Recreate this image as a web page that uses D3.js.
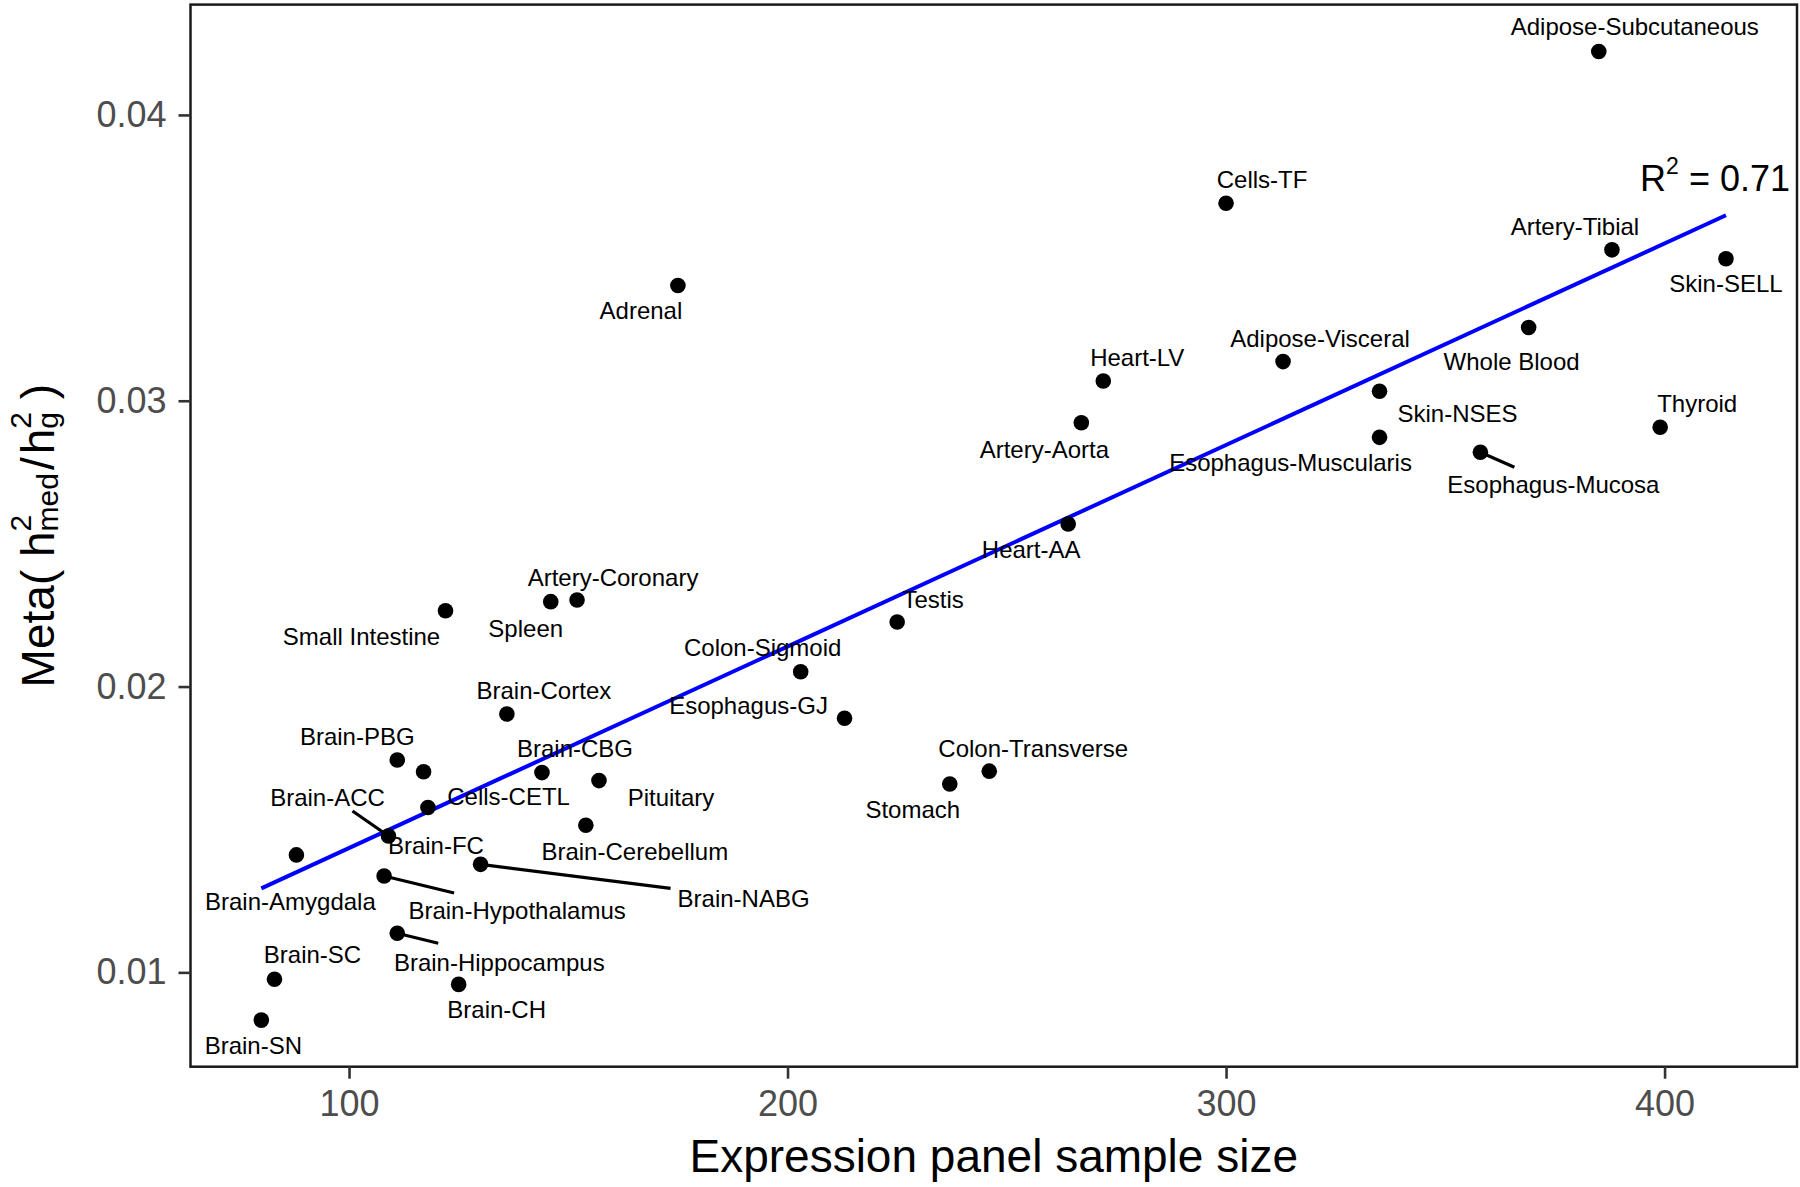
<!DOCTYPE html>
<html><head><meta charset="utf-8">
<script src="https://cdn.jsdelivr.net/npm/d3@7"></script>
<style>
body{margin:0;background:#fff;}
svg{display:block;}
text{font-family:"Liberation Sans",Arial,Helvetica,sans-serif;}
</style>
</head><body><svg id="chart" width="1800" height="1187"></svg>
<script>
// ---------------- data ----------------
const tissues = ["Adipose-Subcutaneous","Cells-TF","Artery-Tibial","Skin-SELL","Adrenal","Whole Blood",
  "Adipose-Visceral","Heart-LV","Skin-NSES","Artery-Aorta","Thyroid","Esophagus-Muscularis","Esophagus-Mucosa",
  "Heart-AA","Artery-Coronary","Spleen","Small Intestine","Testis","Colon-Sigmoid","Brain-Cortex","Esophagus-GJ",
  "Brain-PBG","Cells-CETL","Brain-CBG","Colon-Transverse","Pituitary","Stomach","Brain-FC","Brain-Cerebellum",
  "Brain-ACC","Brain-Amygdala","Brain-NABG","Brain-Hypothalamus","Brain-Hippocampus","Brain-SC","Brain-CH","Brain-SN"];
const sampleSize = [385,300,388,414,175,369,313,272,335,267,399,335,358,264,152,146,122,225,203,136,213,
  111,117,144,246,157,237,118,154,109,88,130,108,111,83,125,80];
const h2ratio = [0.04222,0.03691,0.03528,0.03497,0.03403,0.03256,0.03137,0.03069,0.03033,0.02923,0.02907,
  0.02872,0.02820,0.02569,0.02303,0.02297,0.02265,0.02226,0.02052,0.01904,0.01889,0.01743,0.01702,0.01699,
  0.01704,0.01671,0.01659,0.01577,0.01515,0.01477,0.01411,0.01378,0.01337,0.01137,0.00976,0.00958,0.00833];
const xTicks = [100,200,300,400];
const yTicks = [0.01,0.02,0.03,0.04];
const yTickLabels = ["0.01","0.02","0.03","0.04"];
const fitX = [80,414];
const fitY = [0.01294,0.03649];
const r2Value = "0.71";
const xTitle = "Expression panel sample size";

// ---------------- layout (label placement, px offsets from point) ----------------
const labelOffset = {
  "Adipose-Subcutaneous":[36,-25],"Cells-TF":[36,-24],"Artery-Tibial":[-37,-23],"Skin-SELL":[0,25],
  "Adrenal":[-37,25],"Whole Blood":[-17,34],"Adipose-Visceral":[37,-23],"Heart-LV":[34,-24],
  "Skin-NSES":[78,22],"Artery-Aorta":[-37,27],"Thyroid":[37,-24],"Esophagus-Muscularis":[-89,25],
  "Esophagus-Mucosa":[73,32],"Heart-AA":[-37,25],"Artery-Coronary":[36,-23],"Spleen":[-25,27],
  "Small Intestine":[-84,26],"Testis":[36,-23],"Colon-Sigmoid":[-38,-24],"Brain-Cortex":[37,-24],
  "Esophagus-GJ":[-96,-13],"Brain-PBG":[-40,-24],"Cells-CETL":[85,25],"Brain-CBG":[33,-24],
  "Colon-Transverse":[44,-23],"Pituitary":[72,17],"Stomach":[-37,25],"Brain-FC":[8,38],
  "Brain-Cerebellum":[49,26],"Brain-ACC":[-61,-39],"Brain-Amygdala":[-6,46],"Brain-NABG":[263,34],
  "Brain-Hypothalamus":[133,34],"Brain-Hippocampus":[102,29],"Brain-SC":[38,-25],"Brain-CH":[38,25],
  "Brain-SN":[-8,25]
};
const leaderEnd = {
  "Esophagus-Mucosa":[34,15],"Brain-ACC":[-36,-25],"Brain-NABG":[190,24],
  "Brain-Hypothalamus":[70,17],"Brain-Hippocampus":[41,10]
};

const panel = {left:190.5, top:4.6, right:1797, bottom:1066.7};
const svg = d3.select("#chart");
const x = d3.scaleLinear().domain([63.85,430.2]).range([panel.left,panel.right]);
const y = d3.scaleLinear().domain([0.0067,0.04386]).range([panel.bottom,panel.top]);

const data = tissues.map((t,i)=>({name:t,n:sampleSize[i],v:h2ratio[i]}));

// regression line
svg.append("line")
  .attr("x1",x(fitX[0])).attr("y1",y(fitY[0]))
  .attr("x2",x(fitX[1])).attr("y2",y(fitY[1]))
  .attr("stroke","#0000ff").attr("stroke-width",4);

// leader segments
svg.append("g").selectAll("line").data(data.filter(d=>leaderEnd[d.name])).join("line")
  .attr("x1",d=>x(d.n)).attr("y1",d=>y(d.v))
  .attr("x2",d=>x(d.n)+leaderEnd[d.name][0]).attr("y2",d=>y(d.v)+leaderEnd[d.name][1])
  .attr("stroke","#000").attr("stroke-width",3.2);

// points
svg.append("g").selectAll("circle").data(data).join("circle")
  .attr("cx",d=>x(d.n)).attr("cy",d=>y(d.v)).attr("r",7.8).attr("fill","#000");

// labels
svg.append("g").selectAll("text").data(data).join("text")
  .attr("x",d=>x(d.n)+labelOffset[d.name][0])
  .attr("y",d=>y(d.v)+labelOffset[d.name][1])
  .attr("dy","0.36em").attr("text-anchor","middle")
  .style("font-size","24px").attr("fill","#000")
  .text(d=>d.name);

// panel border
svg.append("rect").attr("x",panel.left).attr("y",panel.top)
  .attr("width",panel.right-panel.left).attr("height",panel.bottom-panel.top)
  .attr("fill","none").attr("stroke","#1a1a1a").attr("stroke-width",2.5);

// axes
const yAxis = svg.append("g").attr("transform",`translate(${panel.left},0)`)
  .call(d3.axisLeft(y).tickValues(yTicks).tickFormat((d,i)=>yTickLabels[i]).tickSize(12).tickPadding(12));
const xAxis = svg.append("g").attr("transform",`translate(0,${panel.bottom})`)
  .call(d3.axisBottom(x).tickValues(xTicks).tickFormat(d3.format("d")).tickSize(12).tickPadding(12));
[yAxis,xAxis].forEach(g=>{
  g.select(".domain").remove();
  g.selectAll(".tick line").attr("stroke","#333").attr("stroke-width",2.6);
  g.selectAll(".tick text").attr("fill","#4d4d4d").style("font-size","36px")
    .style("font-family","'Liberation Sans',Arial,Helvetica,sans-serif");
});

// x title
svg.append("text").attr("x",(panel.left+panel.right)/2).attr("y",1172)
  .attr("text-anchor","middle").style("font-size","46px").attr("fill","#000").text(xTitle);

// y title: Meta( h^2_med / h^2_g )
const S = 46, s = 30;
const yt = svg.append("text").attr("fill","#000").style("font-size",S+"px");
yt.append("tspan").text("Meta( h");
const sup1 = yt.append("tspan").style("font-size",s+"px").attr("dy",-23).text("2");
const sub1 = yt.append("tspan").style("font-size",s+"px").attr("dy",27).text("med");
sub1.attr("dx",-sup1.node().getComputedTextLength());
yt.append("tspan").attr("dy",-4).attr("dx",3).text("/");
yt.append("tspan").attr("dx",3).text("h");
const sup2 = yt.append("tspan").style("font-size",s+"px").attr("dy",-23).text("2");
const sub2 = yt.append("tspan").style("font-size",s+"px").attr("dy",27).text("g");
sub2.attr("dx",-sup2.node().getComputedTextLength());
yt.append("tspan").attr("dy",-4).text(" )");
const bb = yt.node().getBBox();
yt.attr("x",-bb.width/2).attr("transform",`translate(54,${(panel.top+panel.bottom)/2}) rotate(-90)`);

// R^2 annotation
const r2 = svg.append("text").attr("x",1790).attr("y",191).attr("text-anchor","end")
  .style("font-size","36px").attr("fill","#000");
r2.append("tspan").text("R");
r2.append("tspan").style("font-size","23px").attr("dy",-17).text("2");
r2.append("tspan").attr("dy",17).text(" = " + r2Value);
</script>
</body></html>
